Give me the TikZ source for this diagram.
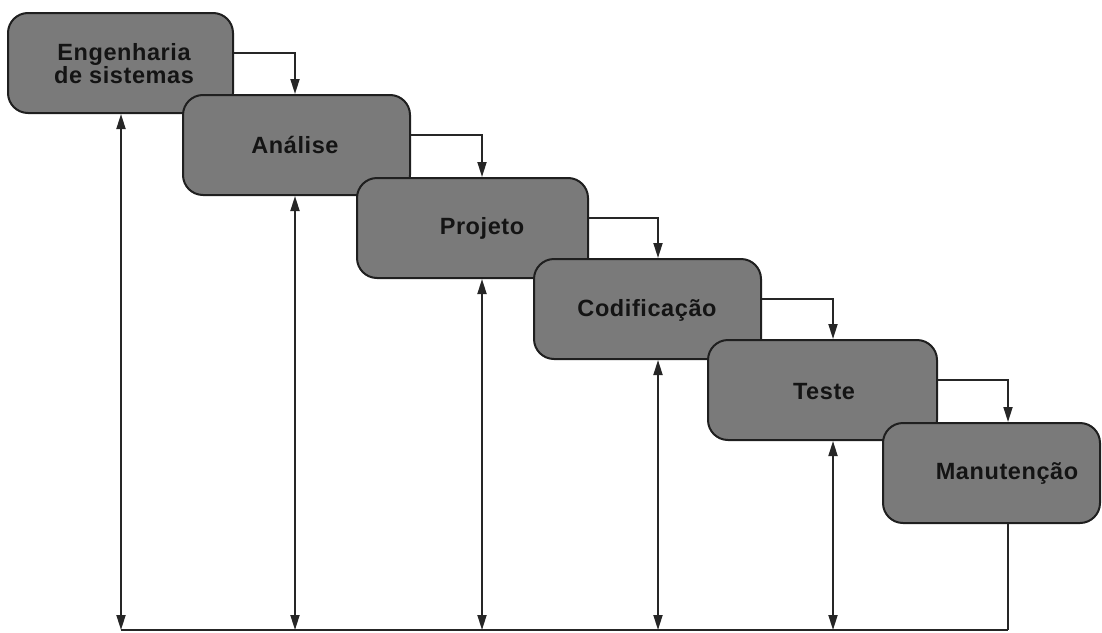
\documentclass[tikz,border=0pt]{standalone}
\usepackage{fontspec}
\setmainfont{Liberation Sans}[LetterSpace=2.5]
\usetikzlibrary{arrows.meta}

\begin{document}
\begin{tikzpicture}[x=1pt,y=-1pt,
  >={Triangle[length=15pt,width=9pt]},
  phase/.style={draw=black!88, line width=2pt, fill=black!52,
                rounded corners=20pt, inner sep=0pt, minimum height=100pt},
  lbl/.style={font=\fontsize{23.5}{25}\selectfont\bfseries, text=black!92,
              align=center, inner sep=0pt},
  link/.style={draw=black!85, line width=1.8pt}
]
\useasboundingbox (0,0) rectangle (1102,632);

% phase boxes, each one overlapping the previous
\node[phase, minimum width=225pt] (b1) at (120.5,63) {};
\node[phase, minimum width=227pt] (b2) at (296.5,145) {};
\node[phase, minimum width=231pt] (b3) at (472.5,228) {};
\node[phase, minimum width=227pt] (b4) at (647.5,309) {};
\node[phase, minimum width=229pt] (b5) at (822.5,390) {};
\node[phase, minimum width=217pt] (b6) at (991.5,473) {};

% phase names
\node[lbl] (l1) at (124,64) {Engenharia\\[-2pt]de sistemas};
\node[lbl] (l2) at (295,145) {Análise};
\node[lbl] (l3) at (482,228) {Projeto};
\node[lbl] (l4) at (647,310) {Codificação};
\node[lbl] (l5) at (824,392) {Teste};
\node[lbl] (l6) at (1007,473) {Manutenção};

% feet of the return lines on the bottom rail
\coordinate (c1) at (121,630);
\coordinate (c2) at (295,630);
\coordinate (c3) at (482,630);
\coordinate (c4) at (658,630);
\coordinate (c5) at (833,630);
\coordinate (c6) at (1008,630);

% forward flow from one phase to the next
\draw[link,->] ([yshift=10pt]b1.east) -| (b2.north -| c2);
\draw[link,->] ([yshift=10pt]b2.east) -| (b3.north -| c3);
\draw[link,->] ([yshift=10pt]b3.east) -| (b4.north -| c4);
\draw[link,->] ([yshift=10pt]b4.east) -| (b5.north -| c5);
\draw[link,->] ([yshift=10pt]b5.east) -| (b6.north -| c6);

% feedback: from maintenance back to every earlier phase
\draw[link] (b6.south -| c6) -- (c6);
\draw[link] (c1) -- (c6);
\draw[link,<->] (c1) -- (b1.south -| c1);
\draw[link,<->] (c2) -- (b2.south -| c2);
\draw[link,<->] (c3) -- (b3.south -| c3);
\draw[link,<->] (c4) -- (b4.south -| c4);
\draw[link,<->] (c5) -- (b5.south -| c5);
\end{tikzpicture}
\end{document}
